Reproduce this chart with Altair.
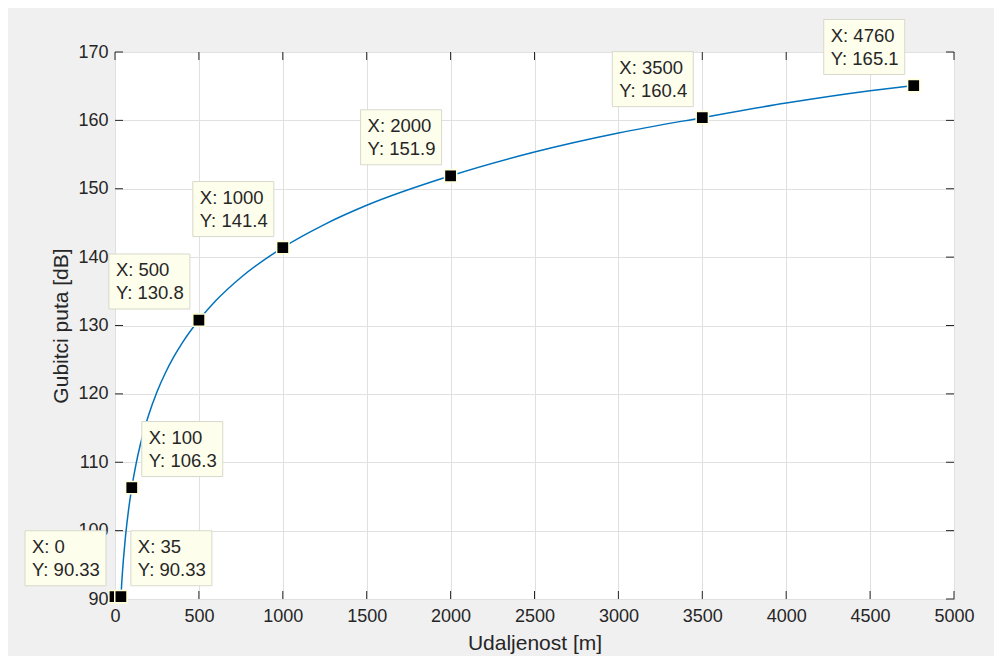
import altair as alt
import pandas as pd

# ---- data ----
curve_x = [0, 35, 40, 45, 50, 60, 70, 80, 90, 100, 125, 150, 175, 200, 250, 300, 350,
           400, 500, 600, 750, 1000, 1250, 1500, 2000, 2500, 3000, 3500, 4000, 4500, 4760]
curve_y = [90.33, 90.33, 92.33, 94.13, 95.73, 98.51, 100.86, 102.90, 104.69, 106.3,
           109.70, 112.48, 114.83, 116.87, 120.27, 123.05, 125.40, 127.43, 130.8,
           133.61, 137.02, 141.4, 144.80, 147.58, 151.9, 155.37, 158.15, 160.4,
           162.53, 164.33, 165.1]

tip_x = [0, 35, 100, 500, 1000, 2000, 3500, 4760]
tip_y = [90.33, 90.33, 106.3, 130.8, 141.4, 151.9, 160.4, 165.1]
tip_y_text = ["90.33", "90.33", "106.3", "130.8", "141.4", "151.9", "160.4", "165.1"]

x_ticks = [0, 500, 1000, 1500, 2000, 2500, 3000, 3500, 4000, 4500, 5000]
y_ticks = [90, 100, 110, 120, 130, 140, 150, 160, 170]

x_title = "Udaljenost [m]"
y_title = "Gubitci puta [dB]"

# ---- tables ----
curve = pd.DataFrame({"x": curve_x, "y": curve_y})
tips = pd.DataFrame({
    "x": tip_x,
    "y": tip_y,
    "label": [f"X: {a}\nY: {b}" for a, b in zip(tip_x, tip_y_text)],
})
xt = pd.DataFrame({"x": x_ticks})
yt = pd.DataFrame({"y": y_ticks})

W, H = 839, 547
FONT = "Liberation Sans"
TXT = "#262626"

xscale = alt.Scale(domain=[0, 5000], nice=False, zero=False)
yscale = alt.Scale(domain=[90, 170], nice=False, zero=False)

X = alt.X("x:Q", scale=xscale, axis=alt.Axis(
    values=x_ticks, title=x_title, format="d", labelFlush=False,
    labelPadding=17, labelBaseline="middle",
    titleX=W / 2, titleY=50, titleAlign="center", titleBaseline="alphabetic"))
Y = alt.Y("y:Q", scale=yscale, axis=alt.Axis(
    values=y_ticks, title=y_title, format="d", labelPadding=7,
    titleX=-48, titleY=H / 2, titleAngle=270, titleAlign="center",
    titleBaseline="alphabetic"))

line = alt.Chart(curve).mark_line(color="#0072BD", strokeWidth=1.5,
                                  interpolate="monotone").encode(x=X, y=Y)

tick_b = alt.Chart(xt).mark_rule(color=TXT, strokeWidth=1).encode(
    x=X, y=alt.value(H), y2=alt.value(H - 8))
tick_t = alt.Chart(xt).mark_rule(color=TXT, strokeWidth=1).encode(
    x=X, y=alt.value(0), y2=alt.value(8))
tick_l = alt.Chart(yt).mark_rule(color=TXT, strokeWidth=1).encode(
    y=Y, x=alt.value(0), x2=alt.value(8))
tick_r = alt.Chart(yt).mark_rule(color=TXT, strokeWidth=1).encode(
    y=Y, x=alt.value(W), x2=alt.value(W - 8))

right_side = alt.FieldOneOfPredicate(field="x", oneOf=[35, 100])
left_side = alt.LogicalNotPredicate(**{"not": right_side})

box_style = dict(fill="#fefeec", stroke="#d8d8cc", strokeWidth=1)
text_style = dict(align="left", baseline="middle", lineBreak="\n", lineHeight=23,
                  font=FONT, fontSize=18.5, color=TXT, dy=-50)

tips_base = alt.Chart(tips)

box_left = tips_base.mark_rect(xOffset=-90, x2Offset=-9, yOffset=-66, y2Offset=-11,
                               **box_style).encode(
    x=X, x2=alt.X2("x:Q"), y=Y, y2=alt.Y2("y:Q")).transform_filter(left_side)
box_right = tips_base.mark_rect(xOffset=10, x2Offset=91, yOffset=-66, y2Offset=-11,
                                **box_style).encode(
    x=X, x2=alt.X2("x:Q"), y=Y, y2=alt.Y2("y:Q")).transform_filter(right_side)

text_left = tips_base.mark_text(dx=-83, **text_style).encode(
    x=X, y=Y, text="label:N").transform_filter(left_side)
text_right = tips_base.mark_text(dx=17, **text_style).encode(
    x=X, y=Y, text="label:N").transform_filter(right_side)

markers = tips_base.mark_square(size=150, fill="black", stroke="#ffffd8",
                                strokeWidth=1.5, opacity=1).encode(x=X, y=Y)

chart = alt.layer(
    line, tick_b, tick_t, tick_l, tick_r, markers, box_left, box_right, text_left, text_right
).properties(
    width=W, height=H,
    padding={"left": 107, "top": 44, "right": 40, "bottom": 57},
    autosize=alt.AutoSizeParams(type="none"),
    background="#f0f0f0",
).configure_view(
    fill="white", stroke=TXT, strokeWidth=1
).configure_axis(
    grid=True, gridColor="#e0e0e0", gridWidth=1,
    ticks=False, domain=False, zindex=0,
    labelFont=FONT, labelFontSize=18, labelColor=TXT,
    titleFont=FONT, titleFontSize=21, titleColor=TXT, titleFontWeight="normal",
)

chart.save("out.html", embed_options={"renderer": "svg", "actions": False})
